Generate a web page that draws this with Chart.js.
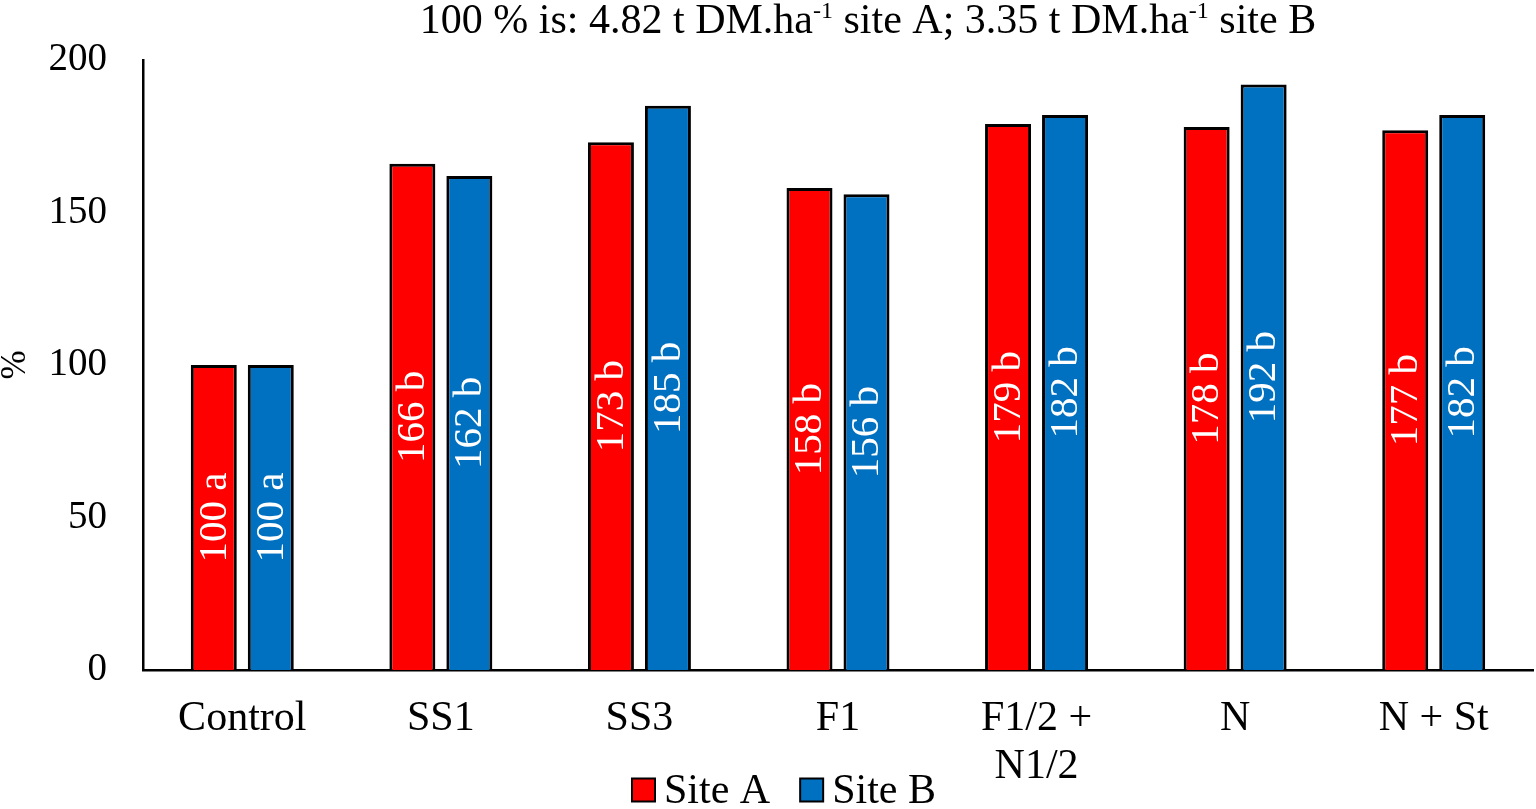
<!DOCTYPE html>
<html>
  <head>
    <title>Relative yield</title>
    <script src="https://cdn.jsdelivr.net/npm/chart.js"></script>
    <style>
      html, body { margin: 0; padding: 0; background: #fff; }
      #wrap { width: 1536px; height: 809px; }
    </style>
  </head>
  <body>
    <div id="wrap"><canvas id="yieldChart"></canvas></div>
    <script>
      var categories = ["Control", "SS1", "SS3", "F1", ["F1/2 +", "N1/2"], "N", "N + St"];
      var siteA = [100, 166, 173, 158, 179, 178, 177];
      var siteB = [100, 162, 185, 156, 182, 192, 182];
      var lettersA = ["a", "b", "b", "b", "b", "b", "b"];
      var lettersB = ["a", "b", "b", "b", "b", "b", "b"];
      var yTicks = [0, 50, 100, 150, 200];
      // title pieces, second item of each pair is superscript
      var titleParts = [
        ["100 % is: 4.82 t DM.ha", false],
        ["-1", true],
        [" site A; 3.35 t DM.ha", false],
        ["-1", true],
        [" site B", false]
      ];

      var serif = "'Liberation Serif', 'Times New Roman', serif";

      // letters written inside the bars, turned upward
      var barLabels = {
        id: "barLabels",
        afterDatasetsDraw: function (chart) {
          var ctx = chart.ctx;
          var letters = [lettersA, lettersB];
          ctx.save();
          ctx.font = "41px " + serif;
          ctx.fillStyle = "#ffffff";
          ctx.textAlign = "center";
          ctx.textBaseline = "middle";
          chart.data.datasets.forEach(function (ds, i) {
            var meta = chart.getDatasetMeta(i);
            meta.data.forEach(function (bar, j) {
              var txt = ds.data[j] + " " + letters[i][j];
              ctx.save();
              ctx.translate(bar.x + 1, (bar.y + bar.base) / 2);
              ctx.rotate(-Math.PI / 2);
              ctx.fillText(txt, 0, 0);
              ctx.restore();
            });
          });
          ctx.restore();
        }
      };

      var topTitle = {
        id: "topTitle",
        afterDraw: function (chart) {
          var ctx = chart.ctx;
          var big = "42px " + serif, small = "24px " + serif;
          ctx.save();
          ctx.fillStyle = "#000";
          ctx.textBaseline = "alphabetic";
          ctx.textAlign = "left";
          var total = 0;
          titleParts.forEach(function (p) {
            ctx.font = p[1] ? small : big;
            total += ctx.measureText(p[0]).width;
          });
          var x = 868 - total / 2;
          var base = 33;
          titleParts.forEach(function (p) {
            ctx.font = p[1] ? small : big;
            ctx.fillText(p[0], x, p[1] ? base - 15 : base);
            x += ctx.measureText(p[0]).width;
          });
          ctx.restore();
        }
      };

      // legend under the axis labels, box close to its text
      var bottomLegend = {
        id: "bottomLegend",
        afterDraw: function (chart) {
          var ctx = chart.ctx;
          var sets = chart.data.datasets;
          var box = 23, gap = 9, between = 30;
          ctx.save();
          ctx.font = "42px " + serif;
          var total = 0;
          sets.forEach(function (ds, i) {
            total += box + gap + ctx.measureText(ds.label).width + (i > 0 ? between : 0);
          });
          var x = 784 - total / 2;
          var cy = 790;
          sets.forEach(function (ds) {
            ctx.fillStyle = ds.backgroundColor;
            ctx.fillRect(x, cy - box / 2, box, box);
            ctx.strokeStyle = "#000";
            ctx.lineWidth = 2;
            ctx.strokeRect(x, cy - box / 2, box, box);
            x += box + gap;
            ctx.fillStyle = "#000";
            ctx.textBaseline = "alphabetic";
            ctx.fillText(ds.label, x, 803);
            x += ctx.measureText(ds.label).width + between;
          });
          ctx.restore();
        }
      };

      var ctx = document.getElementById("yieldChart").getContext("2d");
      var yieldChart = new Chart(ctx, {
        type: "bar",
        data: {
          labels: categories,
          datasets: [
            {
              label: "Site A",
              data: siteA,
              backgroundColor: "#ff0000",
              borderColor: "#000000",
              borderWidth: 3
            },
            {
              label: "Site B",
              data: siteB,
              backgroundColor: "#0070c0",
              borderColor: "#000000",
              borderWidth: 3
            }
          ]
        },
        options: {
          responsive: true,
          maintainAspectRatio: false,
          animation: false,
          categoryPercentage: 0.574,
          barPercentage: 0.807,
          layout: { padding: { top: 60, right: 3, left: 0, bottom: 0 } },
          plugins: {
            title: { display: false },
            tooltip: { enabled: false },
            legend: { display: false }
          },
          scales: {
            x: {
              afterFit: function (axis) { axis.height = 139; },
              grid: { display: false, drawTicks: false },
              border: { display: true, color: "#000", width: 2.5 },
              ticks: {
                color: "#000",
                font: { family: serif, size: 42, lineHeight: 1.143 },
                padding: 25,
                maxRotation: 0,
                autoSkip: false
              }
            },
            y: {
              min: 0,
              max: 200,
              afterBuildTicks: function (axis) {
                axis.ticks = yTicks.map(function (v) { return { value: v }; });
              },
              afterFit: function (axis) { axis.width = 143; },
              grid: { display: false, drawTicks: false },
              border: { display: true, color: "#000", width: 2.5 },
              title: {
                display: true,
                text: "%",
                color: "#000",
                font: { family: serif, size: 35, lineHeight: 0.9 },
                padding: { top: 0, bottom: 10 }
              },
              ticks: {
                color: "#000",
                font: { family: serif, size: 39 },
                padding: 36
              }
            }
          }
        },
        plugins: [barLabels, topTitle, bottomLegend]
      });
    </script>
  </body>
</html>
